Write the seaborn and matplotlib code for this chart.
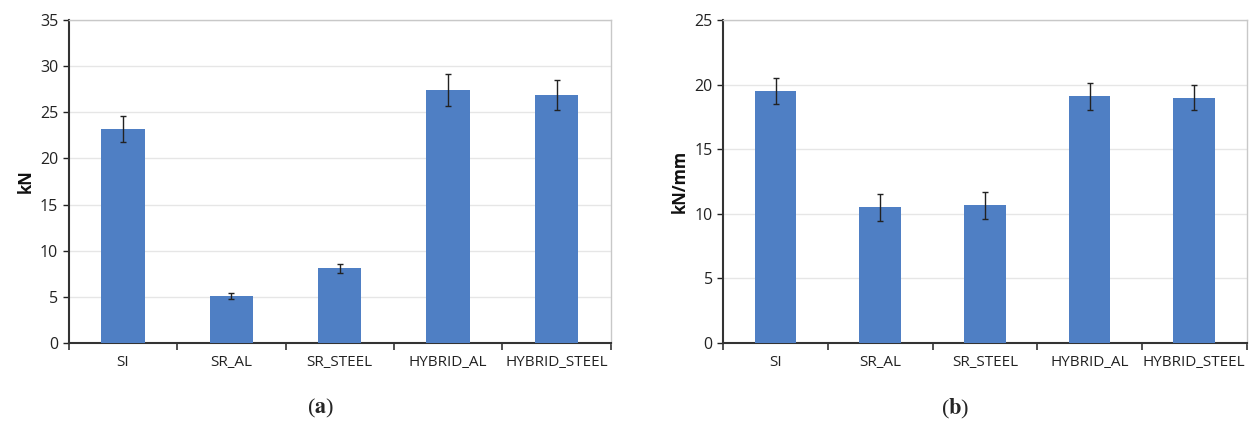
import matplotlib
matplotlib.use("Agg")
import matplotlib.pyplot as plt
import seaborn as sns
import pandas as pd
import numpy as np

categories = ["SI", "SR_AL", "SR_STEEL", "HYBRID_AL", "HYBRID_STEEL"]
force_kN = [23.2, 5.1, 8.1, 27.4, 26.9]
force_err = [1.4, 0.35, 0.5, 1.7, 1.6]
stiff_kNmm = [19.5, 10.5, 10.65, 19.1, 19.0]
stiff_err = [1.0, 1.05, 1.05, 1.05, 1.0]

sns.set_style("white")
plt.rcParams['font.family'] = ['Open Sans', 'DejaVu Sans']
plt.rcParams['mathtext.fontset'] = 'stix'

bar_color = "#4f7fc4"
fig = plt.figure(figsize=(12.49, 4.26), dpi=100)
ax1 = fig.add_axes([0.055, 0.195, 0.434, 0.758])
ax2 = fig.add_axes([0.579, 0.195, 0.419, 0.758])

def draw(ax, vals, errs, ymax, ylabel):
    df = pd.DataFrame({"cat": categories, "val": vals})
    sns.barplot(data=df, x="cat", y="val", color=bar_color, width=0.4,
                saturation=1, ax=ax, errorbar=None, zorder=3, linewidth=0)
    ax.errorbar(np.arange(len(categories)), vals, yerr=errs, fmt="none",
                ecolor="#222222", elinewidth=1.0, capsize=2.5, capthick=1.0, zorder=4)
    ax.set_ylim(0, ymax)
    ax.set_xlim(-0.5, len(categories) - 0.5)
    ax.set_yticks(np.arange(0, ymax + 0.1, 5))
    ax.yaxis.grid(True, color="#e6e6e6", linewidth=1.0, zorder=0)
    ax.set_axisbelow(True)
    ax.set_xlabel("")
    ax.set_ylabel(ylabel, fontsize=12, fontweight="bold", color="#111111")
    ax.tick_params(axis="x", which="major", length=0, labelsize=11, colors="#222222", pad=9)
    ax.set_xticks(np.arange(-0.5, len(categories), 1), minor=True)
    ax.tick_params(axis="x", which="minor", bottom=True, length=5, width=1.2,
                   color="#333333", direction="out")
    ax.tick_params(axis="y", labelsize=11.5, colors="#222222", length=4, width=1.0,
                   direction="out", left=True)
    for s in ["left", "bottom"]:
        ax.spines[s].set_color("#333333")
        ax.spines[s].set_linewidth(1.5)
    for s in ["top", "right"]:
        ax.spines[s].set_color("#c8c8c8")
        ax.spines[s].set_linewidth(1.0)

draw(ax1, force_kN, force_err, 35, "kN")
draw(ax2, stiff_kNmm, stiff_err, 25, "kN/mm")

fig.text(0.257, 0.04, r"($\mathbf{a}$)", ha="center", va="center", fontsize=16,
         family=["Liberation Serif", "DejaVu Serif"])
fig.text(0.765, 0.04, r"($\mathbf{b}$)", ha="center", va="center", fontsize=16,
         family=["Liberation Serif", "DejaVu Serif"])
fig.savefig("out.png", dpi=100)
